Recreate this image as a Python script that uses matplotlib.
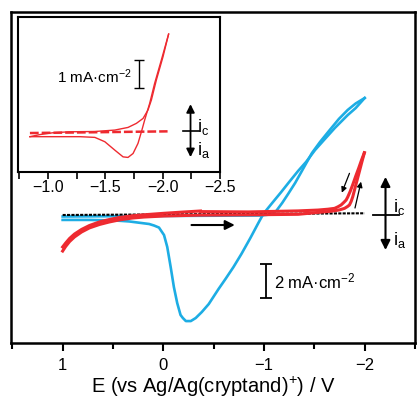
import matplotlib
matplotlib.use("Agg")
import matplotlib.pyplot as plt

plt.rcParams['font.family'] = ['Liberation Sans', 'DejaVu Sans']
plt.rcParams['mathtext.fontset'] = 'custom'
plt.rcParams['mathtext.rm'] = 'Liberation Sans'
plt.rcParams['mathtext.it'] = 'Liberation Sans:italic'

BLUE = '#1DADE4'
RED = '#EE2A30'

# main panel: blue CV, cathodic scan (towards -2 V)
blue_fwd_E = [1.0, 0.141, -0.964, -1.063, -1.122, -1.181, -1.240, -1.309, -1.368, -1.418,
              -1.477, -1.556, -1.645, -1.744, -1.832, -1.911, -2.0]
blue_fwd_i = [-0.09, -0.06, -0.03, 0.03, 0.24, 0.71, 1.24, 1.88, 2.5, 3.03,
              3.65, 4.29, 4.94, 5.65, 6.18, 6.56, 6.88]
# blue CV, anodic scan (back to +1 V)
blue_rev_E = [-2.0, -1.911, -1.832, -1.704, -1.605, -1.507, -1.418, -1.339, -1.250, -1.171,
              -1.082, -0.993, -0.944, -0.865, -0.776, -0.697, -0.618, -0.549, -0.451, -0.382,
              -0.322, -0.273, -0.224, -0.194, -0.171, -0.138, -0.105, -0.073, -0.039, -0.007,
              0.043, 0.092, 0.141, 0.220, 0.339, 0.487, 0.734, 1.0]
blue_rev_i = [6.88, 6.29, 5.88, 5.12, 4.47, 3.82, 3.12, 2.59, 1.94, 1.35,
              0.71, 0.06, -0.47, -1.35, -2.29, -3.06, -3.76, -4.35, -5.24, -5.71,
              -6.06, -6.24, -6.24, -6.06, -5.88, -5.18, -4.24, -3.06, -1.88, -1.18,
              -0.74, -0.62, -0.53, -0.47, -0.38, -0.32, -0.29, -0.29]

# red CV: start at -0.37 V, out to +1 V, then to -2 V and back
red_start_E = [-0.369, -0.204, -0.007, 0.191, 0.309, 0.437, 0.536, 0.635, 0.734, 0.812,
               0.882, 0.931, 0.970, 1.0]
red_start_i = [0.235, 0.176, 0.1, 0.012, -0.047, -0.147, -0.265, -0.41, -0.62, -0.85,
               -1.12, -1.38, -1.65, -1.88]
red_fwd_E = [1.0, 0.970, 0.931, 0.882, 0.812, 0.734, 0.635, 0.536, 0.437, 0.309,
             0.191, -0.007, -0.352, -0.845, -1.339, -1.536, -1.65, -1.701, -1.75, -1.80,
             -1.83, -1.849, -1.866, -1.882, -1.911, -1.941, -1.970, -1.997]
red_fwd_i = [-2.12, -1.85, -1.56, -1.29, -1.0, -0.76, -0.56, -0.41, -0.29, -0.18,
             -0.12, -0.06, -0.01, 0.01, 0.04, 0.15, 0.21, 0.25, 0.3, 0.39,
             0.5, 0.59, 0.8, 1.08, 1.74, 2.41, 3.07, 3.66]
red_rev_E = [-1.997, -1.970, -1.941, -1.911, -1.882, -1.855, -1.832, -1.816, -1.793, -1.766,
             -1.734, -1.701, -1.635, -1.536, -1.339, -0.845, -0.369]
red_rev_i = [3.66, 3.25, 2.76, 2.28, 1.79, 1.37, 1.06, 0.88, 0.74, 0.59,
             0.48, 0.39, 0.34, 0.29, 0.24, 0.18, 0.2]

# black dotted blank
blank_E = [1.0, -0.5, -2.0]
blank_i = [0.0, 0.05, 0.1]

# inset: red CV
ins_fwd_E = [-0.843, -0.930, -1.043, -1.191, -1.409, -1.583, -1.698, -1.771, -1.829, -1.872,
             -1.902, -1.945, -2.003, -2.052]
ins_fwd_i = [-0.2, -0.125, -0.06, -0.025, -0.015, 0.036, 0.13, 0.275, 0.45, 0.75,
             1.11, 1.82, 2.65, 3.46]
ins_rev_E = [-2.052, -1.989, -1.930, -1.887, -1.843, -1.815, -1.785, -1.742, -1.698, -1.655,
             -1.583, -1.496, -1.409, -1.278, -1.043, -0.843]
ins_rev_i = [3.46, 2.54, 1.70, 0.99, 0.39, -0.025, -0.44, -0.80, -0.94, -0.92,
             -0.68, -0.38, -0.225, -0.2, -0.2, -0.2]
ins_dash_E = [-0.843, -2.043]
ins_dash_i = [-0.07, -0.01]

main_ticks = [1, 0, -1, -2]
main_minor = [1.5, 0.5, -0.5, -1.5, -2.5]
ins_ticks = [-1.0, -1.5, -2.0, -2.5]
ins_minor = [-0.75, -1.25, -1.75, -2.25]

fig = plt.figure(figsize=(4.18, 4.01), dpi=100)
ax = fig.add_axes([11 / 418, 1 - 343 / 401, 404 / 418, 331 / 401])

ax.plot(blue_fwd_E, blue_fwd_i, color=BLUE, lw=1.9, zorder=2, solid_joinstyle='round')
ax.plot(blue_rev_E, blue_rev_i, color=BLUE, lw=1.9, zorder=2, solid_joinstyle='round')
ax.plot(blank_E, blank_i, color='k', lw=1.5, ls=(0, (1.5, 0.6)), zorder=3)
for xs, ys in [(red_start_E, red_start_i), (red_fwd_E, red_fwd_i), (red_rev_E, red_rev_i)]:
    ax.plot(xs, ys, color=RED, lw=2.2, zorder=4, solid_joinstyle='round')

ax.set_xlim(1.513, -2.474)
ax.set_ylim(-7.53, 11.94)
ax.set_xticks(main_ticks)
ax.set_xticks(main_minor, minor=True)
ax.set_xticklabels(['1', '0', '\u22121', '\u22122'])
ax.set_yticks([])
ax.tick_params(axis='x', which='major', direction='out', length=6, width=1.5, labelsize=12, pad=5)
ax.tick_params(axis='x', which='minor', direction='out', length=4.5, width=1.5)
for s in ax.spines.values():
    s.set_linewidth(1.8)
ax.set_xlabel('E (vs Ag/Ag(cryptand)$^{+}$) / V', fontsize=14.5, labelpad=1)

# scan direction arrows
ax.annotate('', xy=(-0.71, -0.59), xytext=(-0.28, -0.59),
            arrowprops=dict(arrowstyle='-|>', mutation_scale=14, lw=1.5, color='k',
                            shrinkA=0, shrinkB=0))
ax.annotate('', xy=(-1.773, 1.31), xytext=(-1.849, 2.45),
            arrowprops=dict(arrowstyle='-|>', mutation_scale=8, lw=0.9, color='k',
                            shrinkA=0, shrinkB=0))
ax.annotate('', xy=(-1.964, 1.96), xytext=(-1.904, 0.41),
            arrowprops=dict(arrowstyle='-|>', mutation_scale=8, lw=0.9, color='k',
                            shrinkA=0, shrinkB=0))

# current direction indicator
ax.annotate('', xy=(-2.207, 2.24), xytext=(-2.207, -2.06),
            arrowprops=dict(arrowstyle='<|-|>', mutation_scale=14, lw=1.5, color='k',
                            shrinkA=0, shrinkB=0))
ax.plot([-2.079, -2.346], [0, 0], color='k', lw=1.3)
ax.text(-2.286, 0.18, 'i$_{\\rm c}$', fontsize=13, ha='left', va='baseline')
ax.text(-2.286, -1.76, 'i$_{\\rm a}$', fontsize=13, ha='left', va='baseline')

# 2 mA scale bar
ax.errorbar([-1.023], [-3.88], yerr=[1.0], color='k', lw=1.3, capsize=4, capthick=1.3)
ax.text(-1.10, -4.29, '2 mA\u00b7cm$^{-2}$', fontsize=12, ha='left', va='baseline')

# inset
ins = fig.add_axes([18 / 418, 1 - 172 / 401, 202 / 418, 155 / 401])
ins.plot(ins_fwd_E, ins_fwd_i, color=RED, lw=1.0, solid_joinstyle='round')
ins.plot(ins_rev_E, ins_rev_i, color=RED, lw=1.0, solid_joinstyle='round')
ins.plot(ins_dash_E, ins_dash_i, color=RED, lw=1.8, ls=(0, (3.5, 1.2)))
ins.set_xlim(-0.739, -2.496)
ins.set_ylim(-1.46, 4.07)
ins.set_xticks(ins_ticks)
ins.set_xticks(ins_minor, minor=True)
ins.set_xticklabels(['\u22121.0', '\u22121.5', '\u22122.0', '\u22122.5'])
ins.set_yticks([])
ins.tick_params(axis='x', which='both', direction='out', length=5, width=1.2, labelsize=11.5, pad=1)
for s in ins.spines.values():
    s.set_linewidth(1.5)

ins.errorbar([-1.791], [2.04], yerr=[0.5], color='k', lw=1.0, capsize=3.5, capthick=1.0)
ins.text(-1.73, 1.71, '1 mA\u00b7cm$^{-2}$', fontsize=11, ha='right', va='baseline')

ins.annotate('', xy=(-2.243, 0.96), xytext=(-2.243, -0.93),
             arrowprops=dict(arrowstyle='<|-|>', mutation_scale=12, lw=1.3, color='k',
                             shrinkA=0, shrinkB=0))
ins.plot([-2.174, -2.313], [0.02, 0.02], color='k', lw=1.2)
ins.text(-2.296, -0.02, 'i$_{\\rm c}$', fontsize=13, ha='left', va='baseline')
ins.text(-2.296, -0.86, 'i$_{\\rm a}$', fontsize=13, ha='left', va='baseline')

fig.savefig('out.png', dpi=100)
